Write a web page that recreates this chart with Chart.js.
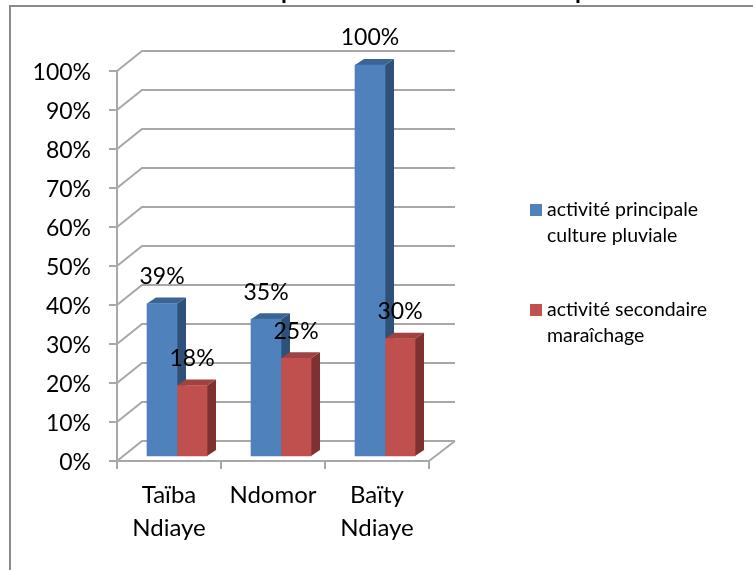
<!DOCTYPE html>
<html>
<head>
<meta charset="utf-8">
<style>
  html, body { margin: 0; padding: 0; background: #fff; overflow: hidden; }
  canvas { display: block; filter: blur(0.5px); }
</style>
<script src="https://cdn.jsdelivr.net/npm/chart.js@4"></script>
</head>
<body>
<canvas id="chart" width="753" height="570"></canvas>
<script>
const categories = [['Taïba', 'Ndiaye'], ['Ndomor'], ['Baïty', 'Ndiaye']];
const principale = [39, 35, 100];
const secondaire = [18, 25, 30];
const principaleLabel = ['activité principale', 'culture pluviale'];
const secondaireLabel = ['activité secondaire', 'maraîchage'];
// only the bottoms of the title letters are left in the crop
const titleLetters = ['p', 'p'];

const FONT = 'Lato, Carlito, Calibri, sans-serif';
const GRID = '#a8a8a8';
const faces = [
  { side: '#2f5179', top: '#3b6494' },
  { side: '#7d3130', top: '#a04240' }
];

const scene = {
  id: 'scene',
  beforeDraw(chart) {
    const ctx = chart.ctx;
    ctx.save();
    ctx.fillStyle = '#fff';
    ctx.fillRect(0, 0, chart.width, chart.height);
    // frame, only top and left show
    ctx.strokeStyle = '#8a8a8a';
    ctx.lineWidth = 2;
    ctx.beginPath();
    ctx.moveTo(753, 6);
    ctx.lineTo(10, 6);
    ctx.lineTo(10, 570);
    ctx.stroke();
    // clipped title
    ctx.fillStyle = '#000';
    ctx.font = 'bold 24px ' + FONT;
    ctx.textBaseline = 'alphabetic';
    ctx.fillText(titleLetters[0], 281, -1);
    ctx.fillText(titleLetters[1], 575, -1);
    ctx.restore();
  },
  beforeDatasetsDraw(chart) {
    const ctx = chart.ctx;
    const { left, right } = chart.chartArea;
    const y = chart.scales.y;
    const dx = 25, dy = -20;
    ctx.save();
    ctx.strokeStyle = GRID;
    ctx.lineWidth = 2;
    y.ticks.forEach(t => {
      const py = y.getPixelForValue(t.value);
      ctx.beginPath();
      ctx.moveTo(left, py);
      ctx.lineTo(left + dx, py + dy);
      ctx.lineTo(right + dx + 1, py + dy);
      ctx.stroke();
    });
    const floor = y.getPixelForValue(0);
    ctx.beginPath();
    ctx.moveTo(right, floor);
    ctx.lineTo(right + dx + 1, floor + dy);
    ctx.stroke();

    // sides and tops of the bars, the fronts come from the chart itself
    const ox = 9, oy = -6;
    [0, 1].forEach(d => {
      chart.getDatasetMeta(d).data.forEach(bar => {
        const p = bar.getProps(['x', 'y', 'base', 'width'], true);
        const l = p.x - p.width / 2, r = p.x + p.width / 2;
        ctx.fillStyle = faces[d].side;
        ctx.beginPath();
        ctx.moveTo(r, p.base);
        ctx.lineTo(r + ox, p.base + oy);
        ctx.lineTo(r + ox, p.y + oy);
        ctx.lineTo(r, p.y);
        ctx.closePath();
        ctx.fill();
        ctx.fillStyle = faces[d].top;
        ctx.beginPath();
        ctx.moveTo(l, p.y);
        ctx.lineTo(l + ox, p.y + oy);
        ctx.lineTo(r + ox, p.y + oy);
        ctx.lineTo(r, p.y);
        ctx.closePath();
        ctx.fill();
      });
    });
    ctx.restore();
  },
  afterDatasetsDraw(chart) {
    const ctx = chart.ctx;
    ctx.save();
    ctx.fillStyle = '#000';
    ctx.font = '23px ' + FONT;
    ctx.textAlign = 'center';
    ctx.textBaseline = 'middle';
    chart.data.datasets.forEach((ds, d) => {
      chart.getDatasetMeta(d).data.forEach((bar, i) => {
        const p = bar.getProps(['x', 'y'], true);
        ctx.fillText(ds.data[i].y + '%', p.x, p.y - 27);
      });
    });

    // legend
    const rows = [204, 304];
    ctx.textAlign = 'left';
    ctx.font = '19.5px ' + FONT;
    chart.data.datasets.forEach((ds, d) => {
      ctx.fillStyle = ds.backgroundColor;
      ctx.fillRect(530, rows[d], 12, 12);
      ctx.fillStyle = '#000';
      ds.label.forEach((line, n) => ctx.fillText(line, 547, rows[d] + 6 + n * 26));
    });
    ctx.restore();
  }
};

new Chart(document.getElementById('chart'), {
  type: 'bar',
  data: {
    labels: categories,
    datasets: [{
      label: principaleLabel,
      data: principale.map((v, i) => ({ x: i, y: v })),
      backgroundColor: '#4f81bd',
      xAxisID: 'xBars',
      yAxisID: 'yBars',
      barThickness: 30,
      clip: false
    }, {
      label: secondaireLabel,
      data: secondaire.map((v, i) => ({ x: i, y: v })),
      backgroundColor: '#c0504d',
      xAxisID: 'xBars',
      yAxisID: 'yBars',
      barThickness: 30,
      clip: false
    }]
  },
  options: {
    responsive: false,
    animation: false,
    layout: { padding: { top: 71, right: 324 } },
    plugins: {
      legend: { display: false },
      tooltip: { enabled: false }
    },
    scales: {
      x: {
        type: 'category',
        offset: true,
        afterFit: s => { s.height = 109; },
        grid: { offset: true, drawOnChartArea: false, color: GRID, lineWidth: 2, tickLength: 8 },
        border: { color: GRID, width: 2 },
        ticks: {
          color: '#000',
          padding: 10,
          maxRotation: 0,
          autoSkip: false,
          font: { family: FONT, size: 24, lineHeight: 1.375 }
        }
      },
      y: {
        min: 0,
        max: 100,
        afterFit: s => { s.width = 117; },
        grid: { drawOnChartArea: false, color: GRID, lineWidth: 2, tickLength: 8 },
        border: { color: GRID, width: 2 },
        ticks: {
          stepSize: 10,
          color: '#000',
          padding: 18,
          labelOffset: 2,
          font: { family: FONT, size: 23 },
          callback: v => v + '%'
        }
      },
      // the bars stand a little inside the floor, so they get their own hidden scales
      xBars: { type: 'linear', display: false, offset: false, min: -0.577, max: 2.423 },
      yBars: { type: 'linear', display: false, min: -1.28, max: 98.47 }
    }
  },
  plugins: [scene]
});
</script>
</body>
</html>
